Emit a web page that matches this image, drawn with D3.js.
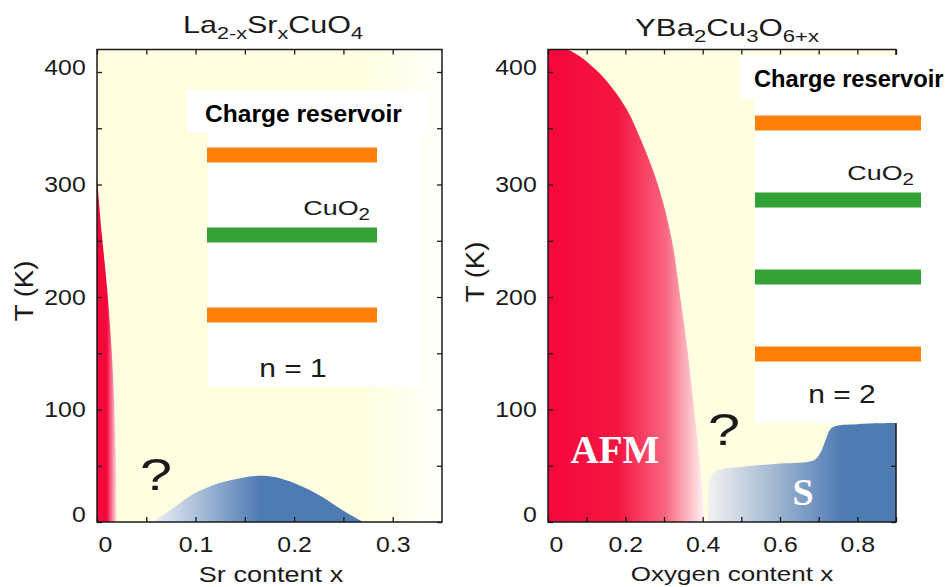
<!DOCTYPE html>
<html>
<head>
<meta charset="utf-8">
<script src="https://cdn.jsdelivr.net/npm/d3@7"></script>
<style>
  body { margin: 0; background: #fff; }
  svg { display: block; font-family: "Liberation Sans", Arial, sans-serif; }
</style>
</head>
<body>
<svg id="chart" width="949" height="587"></svg>
<script>
// --- data (x = doping, T in K) ---
const lscoAfmX = [0, 0.005, 0.011, 0.016, 0.019, 0.02];
const lscoAfmT = [307, 255, 200, 135, 60, 0];
const lscoScX = [0.056, 0.075, 0.094, 0.11, 0.128, 0.145, 0.162, 0.18, 0.196, 0.212, 0.229, 0.25, 0.27];
const lscoScT = [0, 11, 23, 30, 35.5, 39, 41, 40, 36, 30, 22, 10, 0];

const ybcoAfmX = [0, 0.05, 0.13, 0.2, 0.24, 0.284, 0.32, 0.342, 0.358, 0.378, 0.393, 0.405];
const ybcoAfmT = [421, 420, 400, 369, 340, 300, 251, 200, 160, 100, 50, 0];
const ybcoScX = [0.412, 0.414, 0.42, 0.438, 0.5, 0.6, 0.688, 0.705, 0.718, 0.735, 0.8, 0.9];
const ybcoScT = [0, 25, 40, 46, 49, 52, 55, 62, 73, 84, 87, 88];

// ticks
const tTicks = [0, 50, 100, 150, 200, 250, 300, 350, 400];
const tLabels = [0, 100, 200, 300, 400];
const lscoXTicks = [0, 0.05, 0.1, 0.15, 0.2, 0.25, 0.3];
const lscoXLabels = [0, 0.1, 0.2, 0.3];
const ybcoXTicks = [0, 0.1, 0.2, 0.3, 0.4, 0.5, 0.6, 0.7, 0.8, 0.9];
const ybcoXLabels = [0, 0.2, 0.4, 0.6, 0.8];

// layer stacks for the insets
const lscoStack = ["reservoir", "CuO2", "reservoir"];
const ybcoStack = ["reservoir", "CuO2", "CuO2", "reservoir"];

const RED = "#f5063b", BLUE = "#4f7bb4", YELLOW = "#fffee0";
const ORANGE = "#ff8008", GREEN = "#33a133", INK = "#1a1a1a";
const layerColor = { reservoir: ORANGE, CuO2: GREEN };

const svg = d3.select("#chart");
const defs = svg.append("defs");

function hgrad(id, x0, x1, stops) {
  const lg = defs.append("linearGradient").attr("id", id)
    .attr("gradientUnits", "userSpaceOnUse")
    .attr("x1", x0).attr("x2", x1).attr("y1", 0).attr("y2", 0);
  stops.forEach(([o, c]) => lg.append("stop").attr("offset", o).attr("stop-color", c));
  return `url(#${id})`;
}

// text with optional subscripts; parts = ["La", ["2-x"], "Sr", ...]
function label(parent, x, y, parts, o = {}) {
  const size = o.size || 22, sub = o.sub || Math.round(size * 0.72), shift = o.shift || 6;
  const t = parent.append("text")
    .attr("transform", `translate(${x},${y})${o.rotate ? ` rotate(${o.rotate})` : ""} scale(${o.sx || 1},1)`)
    .attr("text-anchor", o.anchor || "start")
    .attr("font-size", size)
    .attr("font-weight", o.weight || "normal")
    .attr("font-family", o.family || null)
    .attr("fill", o.fill || INK);
  let down = false;
  parts.forEach((p) => {
    const isSub = Array.isArray(p);
    const ts = t.append("tspan").text(isSub ? p[0] : p);
    if (isSub) { ts.attr("font-size", sub); if (!down) ts.attr("dy", shift); down = true; }
    else if (down) { ts.attr("dy", -shift); down = false; }
  });
  return t;
}

const yT = d3.scaleLinear([0, 420], [522, 49.5]);
const fmt = (d) => (d === 0 ? "0" : String(d));

function drawPanel(cfg) {
  const { x, id } = cfg;
  const [x0, x1] = x.range();
  const [yb, yt] = yT.range();
  const g = svg.append("g");

  defs.append("clipPath").attr("id", `clip-${id}`)
    .append("rect").attr("x", x0).attr("y", yt).attr("width", x1 - x0).attr("height", yb - yt);
  const plot = g.append("g").attr("clip-path", `url(#clip-${id})`);

  plot.append("rect").attr("x", x0).attr("y", yt).attr("width", x1 - x0).attr("height", yb - yt)
    .attr("fill", cfg.bg);

  const area = d3.area().x((d) => x(d[0])).y0(yT(0)).y1((d) => yT(d[1]))
    .curve(d3.curveCatmullRom.alpha(0.5));
  plot.append("path").attr("d", area(d3.zip(cfg.afmX, cfg.afmT))).attr("fill", cfg.afmFill);
  plot.append("path").attr("d", area(d3.zip(cfg.scX, cfg.scT))).attr("fill", cfg.scFill);

  // axes, ticks inward on all four sides
  const styleTicks = (a) => {
    a.select(".domain").remove();
    a.selectAll(".tick line").attr("stroke", INK).attr("stroke-width", 1.3);
  };
  const bottom = g.append("g").attr("transform", `translate(0,${yb})`)
    .call(d3.axisBottom(x).tickValues(cfg.xTicks).tickSize(-5).tickSizeOuter(0).tickPadding(14)
      .tickFormat((d) => (cfg.xLabels.includes(d) ? fmt(d) : "")))
    .call(styleTicks);
  bottom.selectAll("text").attr("font-size", 22).attr("fill", INK).attr("font-family", null)
    .attr("transform", "scale(1.13,1)").attr("dx", (d) => (d === 0 ? 7 : 0));
  g.append("g").attr("transform", `translate(0,${yt})`)
    .call(d3.axisTop(x).tickValues(cfg.xTicks).tickSize(-5).tickSizeOuter(0).tickFormat(""))
    .call(styleTicks);
  const left = g.append("g").attr("transform", `translate(${x0},0)`)
    .call(d3.axisLeft(yT).tickValues(tTicks).tickSize(-5).tickSizeOuter(0).tickPadding(10)
      .tickFormat((d) => (tLabels.includes(d) ? fmt(d) : "")))
    .call(styleTicks);
  left.selectAll("text").attr("font-size", 22).attr("fill", INK).attr("font-family", null)
    .attr("transform", "scale(1.13,1)").attr("y", (d) => (d === 0 ? -8 : d === 400 ? -5 : 0));
  g.append("g").attr("transform", `translate(${x1},0)`)
    .call(d3.axisRight(yT).tickValues(tTicks).tickSize(-5).tickSizeOuter(0).tickFormat(""))
    .call(styleTicks);
  g.append("rect").attr("x", x0).attr("y", yt).attr("width", x1 - x0).attr("height", yb - yt)
    .attr("fill", "none").attr("stroke", INK).attr("stroke-width", 1.5);
  return g;
}

// inset: white boxes with layer bars
function drawInset(g, ins) {
  g.append("rect").attr("x", ins.head[0]).attr("y", ins.head[1]).attr("width", ins.head[2]).attr("height", ins.head[3]).attr("fill", "#fff");
  g.append("rect").attr("x", ins.box[0]).attr("y", ins.box[1]).attr("width", ins.box[2]).attr("height", ins.box[3]).attr("fill", "#fff");
  const yBar = d3.scalePoint().domain(d3.range(ins.stack.length)).range(ins.barY);
  g.selectAll(null).data(ins.stack).join("rect")
    .attr("x", ins.barX[0]).attr("width", ins.barX[1] - ins.barX[0])
    .attr("y", (d, i) => yBar(i) - 7.5).attr("height", 15)
    .attr("fill", (d) => layerColor[d]);
  label(g, ins.headText[0], ins.headText[1], ["Charge reservoir"], { size: 23, weight: "bold", sx: ins.headSx, fill: "#000" });
  label(g, ins.cuText[0], ins.cuText[1], ["CuO", ["2"]], { size: 21, sub: 16, shift: 5, sx: 1.28, anchor: "end" });
  label(g, ins.nText[0], ins.nText[1], [ins.n], { size: 25, sx: 1.2, anchor: "middle" });
}

// --- La2-xSrxCuO4 ---
const xL = d3.scaleLinear([0, 0.35], [97, 442]);
const gL = drawPanel({
  id: "lsco", x: xL, xTicks: lscoXTicks, xLabels: lscoXLabels,
  bg: hgrad("bgL", 97, 442, [[0, YELLOW], [0.78, YELLOW], [1, "#fffffb"]]),
  afmX: lscoAfmX, afmT: lscoAfmT,
  afmFill: hgrad("afmL", xL(0), xL(0.02), [[0, RED], [0.5, RED], [1, "#fde6ea"]]),
  scX: lscoScX, scT: lscoScT,
  scFill: hgrad("scL", xL(0.056), xL(0.165), [[0, "#eef1f5"], [1, BLUE]]),
});
drawInset(gL, {
  head: [187, 90, 243, 43], box: [208, 133, 214, 254], stack: lscoStack,
  barX: [207, 377], barY: [155, 315],
  headText: [205, 122], headSx: 1.07, cuText: [370, 215], nText: [293, 377], n: "n = 1",
});
label(gL, 156, 490, ["?"], { size: 45, sx: 1.28, anchor: "middle" });
label(gL, 273, 33, ["La", ["2-x"], "Sr", ["x"], "CuO", ["4"]], { size: 24, sub: 17, sx: 1.27, anchor: "middle" });
label(gL, 271, 582, ["Sr content x"], { size: 22, sx: 1.23, anchor: "middle" });
label(gL, 33, 291, ["T (K)"], { size: 25, sx: 1.1, anchor: "middle", rotate: -90 });

// --- YBa2Cu3O6+x ---
const xR = d3.scaleLinear([0, 0.9], [548, 896]);
const gR = drawPanel({
  id: "ybco", x: xR, xTicks: ybcoXTicks, xLabels: ybcoXLabels,
  bg: YELLOW,
  afmX: ybcoAfmX, afmT: ybcoAfmT,
  afmFill: hgrad("afmR", xR(0), xR(0.405), [[0, RED], [0.45, "#f61642"], [0.75, "#f86680"], [1, "#fff4f4"]]),
  scX: ybcoScX, scT: ybcoScT,
  scFill: hgrad("scR", xR(0.412), xR(0.76), [[0, "#f3f3f0"], [1, BLUE]]),
});
drawInset(gR, {
  head: [740, 55, 209, 44], box: [755, 99, 194, 324], stack: ybcoStack,
  barX: [755, 921], barY: [123, 354],
  headText: [754, 87], headSx: 1.03, cuText: [914, 180], nText: [842, 403], n: "n = 2",
});
label(gR, 724, 445, ["?"], { size: 45, sx: 1.28, anchor: "middle" });
label(gR, 615, 463, ["AFM"], { size: 39, weight: "bold", family: "Liberation Serif, Times New Roman, serif", anchor: "middle", fill: "#fff" });
label(gR, 803, 505, ["S"], { size: 38, weight: "bold", family: "Liberation Serif, Times New Roman, serif", anchor: "middle", fill: "#fff" });
label(gR, 727, 36, ["YBa", ["2"], "Cu", ["3"], "O", ["6+x"]], { size: 24, sub: 17, sx: 1.3, anchor: "middle" });
label(gR, 732, 581, ["Oxygen content x"], { size: 21, sx: 1.24, anchor: "middle" });
label(gR, 484, 272, ["T (K)"], { size: 25, sx: 1.1, anchor: "middle", rotate: -90 });
</script>
</body>
</html>
